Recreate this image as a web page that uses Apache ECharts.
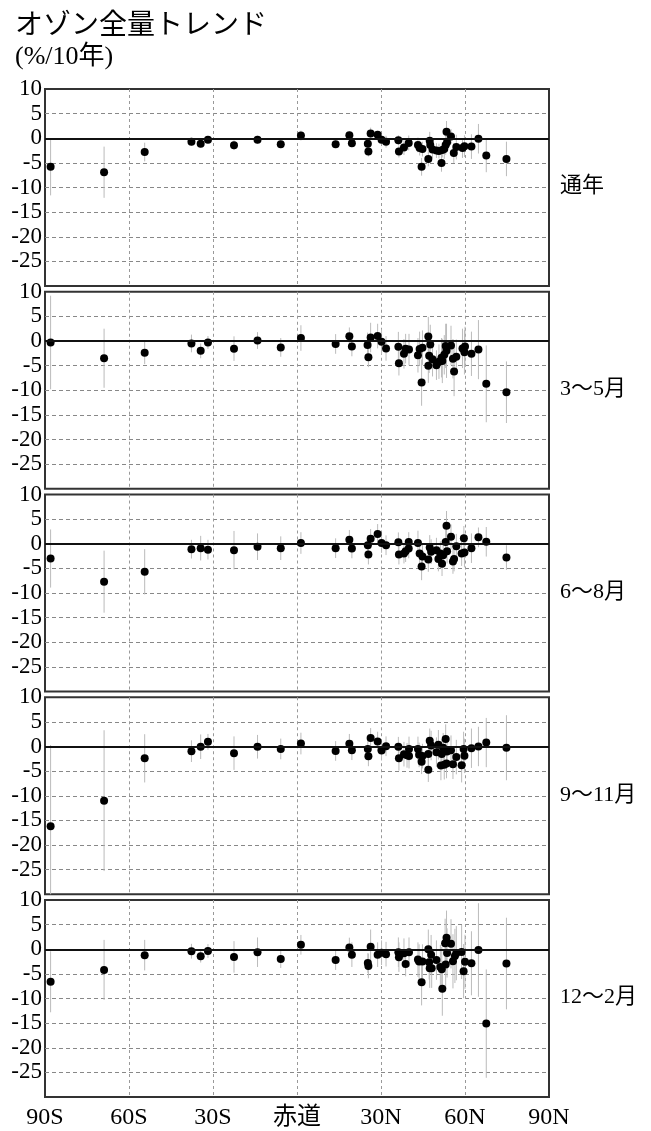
<!DOCTYPE html>
<html>
<head>
<meta charset="utf-8">
<script src="https://cdn.jsdelivr.net/npm/echarts@6/dist/echarts.min.js"></script>
<style>
  html, body { margin: 0; padding: 0; background: #fff; }
  #chart { width: 651px; height: 1131px; }
</style>
</head>
<body>
<div id="chart"></div>
<script>
// 緯度目盛りのラベル
var xTickLabels = ["90S", "60S", "30S", "赤道", "30N", "60N", "90N"];
var seasonLabels = ["通年", "3〜5月", "6〜8月", "9〜11月", "12〜2月"];

// [緯度, トレンド(%/10年), 誤差幅]
var annual = [
  [-88, -5.8, 5.8], [-68.9, -6.9, 5.2], [-54.4, -2.8, 1.9], [-37.7, -0.7, 0.8], [-34.4, -1.1, 0.8],
  [-31.8, -0.3, 0.6], [-22.5, -1.4, 1.0], [-14.1, -0.3, 0.8], [-5.8, -1.2, 0.8], [1.4, 0.55, 1.0],
  [13.8, -1.2, 0.8], [18.7, 0.6, 0.8], [19.6, -1.0, 0.8], [25.3, -1.1, 1.0], [25.5, -2.7, 1.0],
  [26.3, 0.95, 1.2], [28.8, 0.7, 0.8], [30.2, -0.3, 1.0], [31.8, -0.7, 1.2], [36.2, -0.4, 1.0],
  [36.4, -2.7, 1.2], [38.2, -1.9, 1.5], [39.9, -0.95, 1.5], [43.2, -1.35, 1.5], [43.8, -2.0, 1.5],
  [44.5, -5.8, 1.8], [44.8, -2.2, 1.5], [46.9, -4.2, 1.5], [47.4, -0.5, 1.8], [47.6, -1.35, 1.5],
  [48.4, -2.3, 1.8], [49.8, -2.5, 1.5], [50.7, -2.6, 1.5], [51.6, -5.0, 1.8], [51.9, -2.4, 1.5],
  [52.6, -2.2, 2.0], [53.1, -1.35, 2.0], [53.4, 1.3, 2.2], [53.6, -0.8, 1.8], [55.0, 0.35, 1.5],
  [56.0, -3.0, 2.0], [56.9, -1.8, 2.5], [59.1, -2.0, 2.0], [59.8, -1.6, 2.2], [62.3, -1.7, 2.5],
  [64.8, -0.1, 3.0], [67.6, -3.5, 3.4], [74.8, -4.2, 3.5]
];
var spring = [
  [-88, -0.3, 9.5], [-68.9, -3.5, 6.0], [-54.4, -2.4, 2.3], [-37.7, -0.5, 1.8], [-34.4, -2.0, 1.5],
  [-31.8, -0.3, 1.3], [-22.5, -1.55, 2.5], [-14.1, 0.1, 1.7], [-5.8, -1.3, 1.9], [1.4, 0.6, 2.6],
  [13.8, -0.6, 2.0], [18.7, 0.95, 1.8], [19.6, -1.1, 2.0], [25.2, -0.8, 2.5], [25.5, -3.3, 2.0],
  [26.3, 0.7, 3.0], [28.8, 1.0, 2.5], [30.2, -0.15, 2.5], [31.8, -1.5, 2.5], [36.2, -1.15, 3.0],
  [36.4, -4.5, 2.5], [38.2, -2.6, 3.0], [38.8, -1.55, 3.0], [40.0, -1.75, 3.2], [43.2, -2.9, 3.5],
  [43.8, -1.6, 3.5], [44.5, -8.45, 4.7], [44.8, -1.35, 3.5], [46.9, 0.9, 4.0], [46.9, -5.0, 3.5],
  [47.2, -3.0, 3.5], [47.6, -0.7, 4.0], [48.4, -3.7, 3.5], [49.8, -4.9, 3.0], [50.7, -4.2, 3.5],
  [51.6, -3.4, 4.0], [51.9, -4.05, 4.5], [52.6, -2.8, 4.0], [53.1, -1.0, 4.5], [53.4, -2.0, 5.5],
  [55.0, -0.9, 4.0], [55.7, -3.6, 4.0], [56.1, -6.2, 5.0], [56.9, -3.2, 3.5], [59.1, -1.5, 4.0],
  [59.8, -2.3, 4.5], [60.0, -1.1, 4.0], [62.3, -2.6, 4.5], [64.8, -1.75, 6.0], [67.6, -8.7, 7.8],
  [74.8, -10.4, 6.25]
];
var summer = [
  [-88, -3.0, 5.9], [-68.9, -7.7, 6.3], [-54.4, -5.7, 4.6], [-37.7, -1.1, 1.9], [-34.4, -0.9, 2.5],
  [-31.8, -1.2, 2.0], [-22.5, -1.3, 3.9], [-14.1, -0.6, 2.7], [-5.8, -0.9, 2.4], [1.4, 0.15, 2.2],
  [13.8, -0.9, 2.0], [18.7, 0.8, 2.0], [19.6, -0.95, 2.0], [25.3, -0.3, 2.0], [25.5, -2.2, 2.0],
  [26.3, 1.0, 2.0], [28.8, 2.0, 2.0], [30.2, 0.15, 2.0], [31.8, -0.3, 2.0], [36.2, 0.3, 2.0],
  [36.4, -2.2, 2.0], [38.2, -2.0, 2.0], [38.8, -1.5, 2.2], [39.9, 0.35, 2.0], [39.9, -0.95, 2.0],
  [43.2, 0.15, 2.5], [43.8, -2.0, 2.5], [44.5, -4.6, 2.8], [44.8, -2.6, 2.5], [46.9, -3.2, 2.5],
  [47.4, -0.75, 2.5], [47.9, -1.6, 2.5], [49.8, -1.3, 2.5], [50.5, -3.1, 2.5], [51.2, -2.0, 2.5],
  [51.8, -4.05, 2.5], [52.2, -2.35, 2.5], [53.1, 0.35, 2.5], [53.4, 3.65, 3.0], [53.6, -1.5, 2.5],
  [55.0, 1.4, 2.5], [55.7, -3.6, 2.5], [56.1, -3.1, 2.5], [56.9, -0.5, 2.5], [58.8, -2.0, 2.5],
  [59.6, 1.1, 2.5], [59.8, -1.8, 3.0], [62.3, -0.9, 3.0], [64.8, 1.3, 2.0], [67.6, 0.4, 3.0],
  [74.8, -2.8, 2.5]
];
var autumn = [
  [-88, -16.2, 16.5], [-68.9, -11.0, 14.3], [-54.4, -2.4, 4.9], [-37.7, -0.95, 2.2], [-34.4, -0.05, 2.5],
  [-31.8, 0.95, 1.6], [-22.5, -1.35, 3.4], [-14.1, -0.05, 2.4], [-5.8, -0.5, 2.1], [1.4, 0.6, 2.2],
  [13.8, -0.9, 2.0], [18.7, 0.55, 2.0], [19.6, -0.75, 2.0], [25.3, -0.5, 2.0], [25.5, -2.0, 2.0],
  [26.3, 1.75, 2.0], [28.8, 1.0, 2.0], [30.2, -0.8, 2.0], [31.8, 0.05, 2.0], [36.2, -0.05, 2.0],
  [36.4, -2.4, 2.5], [38.2, -1.55, 2.5], [39.3, -1.8, 2.5], [40.0, -1.95, 2.5], [40.0, -0.5, 2.5],
  [43.2, -0.5, 2.5], [43.6, -1.7, 2.5], [44.5, -3.1, 2.5], [44.8, -1.95, 2.5], [46.9, -4.7, 2.5],
  [46.9, -1.5, 3.0], [47.4, 1.15, 2.5], [47.9, 0.2, 3.0], [49.8, -1.15, 3.0], [50.5, 0.35, 3.0],
  [51.4, -3.85, 3.0], [51.7, -1.5, 3.0], [52.2, -0.25, 3.0], [52.6, -3.7, 3.0], [53.1, 1.5, 3.0],
  [53.4, -3.45, 3.0], [53.6, -1.0, 3.0], [55.0, -0.75, 3.0], [55.7, -3.6, 3.0], [56.9, -2.15, 3.5],
  [58.8, -3.8, 3.5], [59.5, -0.5, 3.5], [59.8, -1.9, 3.5], [62.3, -0.35, 4.0], [64.8, 0.0, 4.0],
  [67.6, 0.8, 5.0], [74.8, -0.25, 6.6]
];
var winter = [
  [-88, -6.6, 6.2], [-68.9, -4.2, 6.1], [-54.4, -1.2, 3.1], [-37.7, -0.4, 1.5], [-34.4, -1.4, 1.3],
  [-31.8, -0.35, 1.4], [-22.5, -1.55, 3.2], [-14.1, -0.6, 3.0], [-5.8, -2.0, 1.8], [1.4, 0.9, 2.0],
  [13.8, -2.2, 2.0], [18.7, 0.35, 2.0], [19.6, -1.1, 2.5], [25.3, -2.8, 2.0], [25.5, -3.4, 2.5],
  [26.3, 0.5, 3.5], [28.8, -1.1, 2.5], [30.2, -0.7, 2.5], [31.8, -1.0, 2.5], [36.2, -0.6, 3.0],
  [36.4, -1.6, 3.0], [38.2, -0.8, 3.0], [38.8, -3.0, 2.5], [40.0, -0.6, 3.0], [43.2, -2.1, 3.5],
  [43.6, -2.5, 3.5], [44.5, -6.7, 4.7], [44.8, -2.5, 3.5], [46.9, 0.0, 4.0], [47.2, -2.65, 3.5],
  [47.4, -3.85, 4.0], [47.9, -1.1, 4.0], [48.1, -3.85, 4.0], [49.8, -2.2, 4.0], [51.2, -3.6, 4.5],
  [51.7, -4.05, 4.5], [51.9, -8.0, 5.5], [52.9, 1.2, 5.0], [53.1, -3.1, 5.0], [53.4, 2.35, 5.5],
  [53.6, -0.75, 5.0], [55.0, 1.1, 5.0], [55.7, -2.45, 5.5], [56.4, -1.35, 5.5], [56.9, -0.8, 5.5],
  [58.8, -0.55, 5.5], [59.5, -4.45, 5.5], [60.0, -2.55, 5.5], [62.3, -2.85, 6.5], [64.8, -0.15, 9.5],
  [67.6, -15.1, 11], [74.8, -2.9, 9.3]
];

var panels = [annual, spring, summer, autumn, winter];
var serif = "'Liberation Serif', 'Times New Roman', 'Noto Sans CJK JP', serif";
var gothic = "'Noto Sans CJK JP', sans-serif";

var gridTop = 89, gridStep = 202.75, gridH = 197;

// 誤差棒（灰色の縦線）
function renderErr(params, api) {
  var x = api.value(0);
  var lo = Math.max(-30, api.value(1) - api.value(2));
  var hi = Math.min(10, api.value(1) + api.value(2));
  var p1 = api.coord([x, lo]);
  var p2 = api.coord([x, hi]);
  return {
    type: "line",
    shape: { x1: p1[0], y1: p1[1], x2: p2[0], y2: p2[1] },
    style: { stroke: "#bbb", lineWidth: 1 }
  };
}

var grids = [], xAxes = [], yAxes = [], series = [];
var titles = [
  { text: "オゾン全量トレンド", left: 15, top: 9, padding: 0,
    textStyle: { fontFamily: gothic, fontSize: 28, fontWeight: "normal", color: "#000" } },
  { text: "(%/10年)", left: 15, top: 44, padding: 0,
    textStyle: { fontFamily: serif, fontSize: 26, fontWeight: "normal", color: "#000" } }
];

for (var i = 0; i < panels.length; i++) {
  var panelTop = gridTop + i * gridStep;
  grids.push({
    left: 45, width: 504, top: panelTop, height: gridH,
    show: true, borderColor: "#333", borderWidth: 2, backgroundColor: "transparent"
  });
  xAxes.push({
    gridIndex: i, type: "value", min: -90, max: 90, interval: 30,
    axisLine: { show: false }, axisTick: { show: false },
    splitLine: { show: true, showMinLine: false, showMaxLine: false,
      lineStyle: { color: "#999", type: [3, 3], width: 1 } },
    axisLabel: {
      show: i === panels.length - 1, margin: 9,
      fontFamily: serif, fontSize: 24, color: "#000",
      formatter: function (v) { return xTickLabels[Math.round((v + 90) / 30)]; }
    }
  });
  yAxes.push({
    gridIndex: i, type: "value", min: -30, max: 10, interval: 5,
    axisLine: { show: false }, axisTick: { show: false },
    splitLine: { show: true, showMinLine: false, showMaxLine: false,
      lineStyle: { color: "#888", type: [4, 3], width: 1 } },
    axisLabel: {
      showMinLabel: false, margin: 3,
      fontFamily: serif, fontSize: 23, color: "#000"
    }
  });
  series.push({
    type: "custom", xAxisIndex: i, yAxisIndex: i,
    renderItem: renderErr, data: panels[i], encode: { x: 0, y: 1 }, z: 2, silent: true
  });
  series.push({
    type: "scatter", xAxisIndex: i, yAxisIndex: i,
    data: panels[i], symbolSize: 8, z: 4,
    itemStyle: { color: "#000", opacity: 1 },
    markLine: {
      silent: true, symbol: "none", label: { show: false },
      lineStyle: { color: "#111", width: 2, type: "solid" },
      data: [{ yAxis: 0 }]
    }
  });
  titles.push({
    text: seasonLabels[i], left: 560, top: panelTop + gridH / 2 - 12, padding: 0,
    textStyle: { fontFamily: serif, fontSize: 22, fontWeight: "normal", color: "#000" }
  });
}

var option = {
  animation: false,
  backgroundColor: "#fff",
  title: titles,
  grid: grids,
  xAxis: xAxes,
  yAxis: yAxes,
  series: series
};

var chartDom = document.getElementById("chart");
var myChart = echarts.init(chartDom);
myChart.setOption(option);
</script>
</body>
</html>
